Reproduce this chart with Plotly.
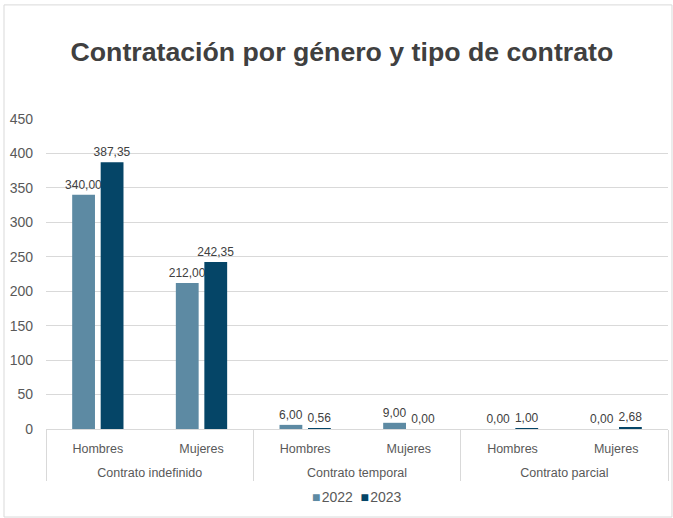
import plotly.graph_objects as go

tipos = ["Contrato indefinido", "Contrato indefinido", "Contrato temporal",
         "Contrato temporal", "Contrato parcial", "Contrato parcial"]
generos = ["Hombres", "Mujeres", "Hombres", "Mujeres", "Hombres", "Mujeres"]
valores_2022 = [340.00, 212.00, 6.00, 9.00, 0.00, 0.00]
valores_2023 = [387.35, 242.35, 0.56, 0.00, 1.00, 2.68]
y_ticks = [0, 50, 100, 150, 200, 250, 300, 350, 400, 450]

COLOR_2022 = "#5d8aa3"
COLOR_2023 = "#054567"
GRID = "#d9d9d9"
TXT = "#595959"

# outer category labels sit one line lower than plotly's default spacing
tipos_lbl = ["<br>" + t for t in tipos]

fig = go.Figure()
for name, vals, color in [("2022", valores_2022, COLOR_2022),
                          ("2023", valores_2023, COLOR_2023)]:
    fig.add_trace(go.Bar(
        x=[tipos_lbl, generos], y=vals, name=name,
        marker=dict(color=color, line=dict(width=0)),
        texttemplate="%{y:.2f}", textposition="outside",
        constraintext="none",
        textfont=dict(size=12, color="#404040"),
        cliponaxis=False, showlegend=False,
    ))

# outer chart frame
fig.add_shape(type="rect", xref="paper", yref="paper",
              x0=-0.0675, x1=1.0064, y0=-0.284, y1=1.368,
              line=dict(color=GRID, width=1), layer="below")

# compact legend, squares hugging the labels as in the original
fig.add_annotation(
    xref="paper", yref="paper", x=0.5, y=-0.22, xanchor="center", yanchor="middle",
    showarrow=False, font=dict(size=14, color=TXT),
    text=(f"<span style='color:{COLOR_2022}'>■</span>&#8202;2022&nbsp; "
          f"<span style='color:{COLOR_2023}'>■</span>&#8202;2023"),
)

fig.update_layout(
    width=673, height=518,
    margin=dict(l=46, r=5, t=119, b=89),
    separators=",.",
    font=dict(family="Liberation Sans, Arial, sans-serif", color=TXT),
    title=dict(text="<b>Contratación por género y tipo de contrato</b>",
               x=0.508, xanchor="center", y=1 - 52 / 518, yanchor="middle",
               font=dict(size=26.7, color="#404040")),
    barmode="group", bargap=0.45, bargroupgap=0.2,
    plot_bgcolor="white", paper_bgcolor="white",
    showlegend=False,
    yaxis=dict(range=[0, 450], tickvals=y_ticks, gridcolor=GRID,
               zeroline=False, showline=False, ticks="", automargin=False,
               ticklabelstandoff=12,
               tickfont=dict(size=14, color=TXT)),
    xaxis=dict(type="multicategory", showline=True, linecolor=GRID,
               showdividers=True, dividercolor=GRID, dividerwidth=1,
               ticks="", automargin=False, ticklabelstandoff=8,
               tickfont=dict(size=12.5, color=TXT)),
)

fig.write_html("out.html", config={"displayModeBar": False},
               post_script="document.body.style.margin='0';"
                           "document.body.style.overflow='hidden';")
